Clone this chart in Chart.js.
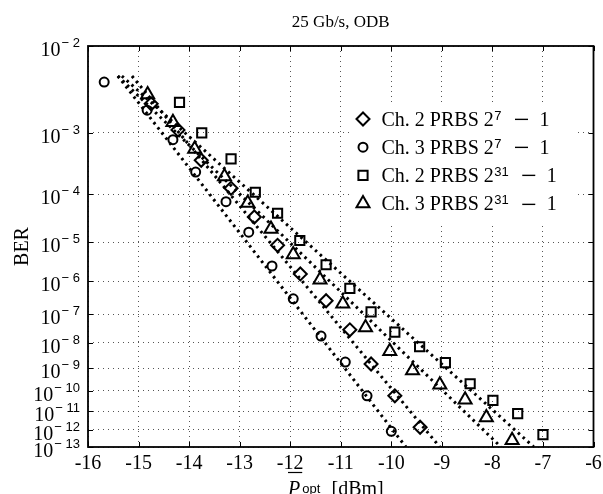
<!DOCTYPE html>
<html>
<head>
<meta charset="utf-8">
<title>BER vs received power</title>
<script src="https://cdn.jsdelivr.net/npm/chart.js@4.4.1/dist/chart.umd.min.js"></script>
<style>
  html, body { margin: 0; padding: 0; background: #fff; }
  canvas { display: block; }
</style>
</head>
<body>
<canvas id="berChart" width="603" height="494"></canvas>
<script>
// Measured BER vs average optical power (dBm), 25 Gb/s ODB
const powerCh2P7 = [-14.75, -14.22, -13.76, -13.17, -12.71, -12.25, -11.80, -11.29, -10.82, -10.40, -9.93, -9.43];
const berCh2P7 = [2.4e-3, 1.1e-3, 3.9e-4, 1.3e-4, 3.6e-5, 8.5e-6, 1.6e-6, 2.7e-7, 3.0e-8, 1.5e-9, 5.8e-11, 1.4e-12];

const powerCh3P7 = [-15.68, -14.83, -14.32, -13.87, -13.27, -12.82, -12.36, -11.94, -11.39, -10.91, -10.48, -10.00];
const berCh3P7 = [4.3e-3, 2.0e-3, 8.0e-4, 2.5e-4, 7.3e-5, 1.7e-5, 2.6e-6, 3.1e-7, 1.8e-8, 1.8e-9, 5.8e-11, 8.3e-13];

const powerCh2P31 = [-14.19, -13.75, -13.17, -12.69, -12.25, -11.81, -11.29, -10.82, -10.40, -9.93, -9.44, -8.93, -8.44, -7.99, -7.50, -7.00];
const berCh2P31 = [2.5e-3, 1.0e-3, 4.1e-4, 1.1e-4, 4.3e-5, 1.1e-5, 2.8e-6, 6.3e-7, 1.2e-7, 2.5e-8, 7.2e-9, 1.7e-9, 2.1e-10, 3.5e-11, 7.5e-12, 5.3e-13];

const powerCh3P31 = [-14.82, -14.32, -13.89, -13.30, -12.84, -12.38, -11.94, -11.41, -10.96, -10.51, -10.03, -9.58, -9.04, -8.54, -8.12, -7.61];
const berCh3P31 = [3.1e-3, 1.4e-3, 5.8e-4, 2.1e-4, 6.9e-5, 2.0e-5, 5.1e-6, 1.1e-6, 2.2e-7, 3.6e-8, 4.9e-9, 8.1e-10, 1.9e-10, 3.7e-11, 4.7e-12, 2.5e-13];

// Linear fits (end points) in the log(-log BER) domain
const fitBer = [5e-3, 1e-13];
const fitCh2P7 = [-15.13, -9.04];
const fitCh3P7 = [-15.41, -9.71];
const fitCh2P31 = [-15.33, -7.18];
const fitCh3P31 = [-15.41, -7.83];

// Axis ticks
const xTicks = [-16, -15, -14, -13, -12, -11, -10, -9, -8, -7, -6];
const berDecades = [2, 3, 4, 5, 6, 7, 8, 9, 10, 11, 12, 13];

const SERIF = '"Liberation Serif", "DejaVu Serif", serif';
const SANS = '"Liberation Sans", "DejaVu Sans", sans-serif';

// BER axis is drawn as log10(-log10(BER))
function berToAxis(ber) {
    return Math.log10(-Math.log10(ber));
}

function toPoints(power, ber) {
    return power.map((p, i) => ({ x: p, y: berToAxis(ber[i]) }));
}

const markerStyles = {
    diamond: { pointStyle: 'rectRot', radius: 6.5 },
    circle: { pointStyle: 'circle', radius: 4.5 },
    square: { pointStyle: 'rect', radius: 6.5 },
    triangle: { pointStyle: 'triangle', radius: 7.5 }
};

function markerSet(power, ber, style) {
    return {
        data: toPoints(power, ber),
        showLine: false,
        pointStyle: markerStyles[style].pointStyle,
        pointRadius: markerStyles[style].radius,
        pointBorderWidth: 2,
        pointBorderColor: '#000',
        pointBackgroundColor: 'rgba(0,0,0,0)',
        clip: false
    };
}

function fitSet(power) {
    return {
        data: toPoints(power, fitBer),
        showLine: true,
        pointRadius: 0,
        borderColor: '#000',
        borderWidth: 3,
        borderDash: [2.5, 4],
        borderCapStyle: 'butt'
    };
}

// Legend rows: marker + "Ch. n PRBS 2^k - 1"
const legendRows = [
    { style: 'diamond', text: 'Ch. 2 PRBS 2', exp: '7' },
    { style: 'circle', text: 'Ch. 3 PRBS 2', exp: '7' },
    { style: 'square', text: 'Ch. 2 PRBS 2', exp: '31' },
    { style: 'triangle', text: 'Ch. 3 PRBS 2', exp: '31' }
];

function drawLegendLabel(ctx, x, y, row) {
    ctx.textAlign = 'left';
    ctx.textBaseline = 'alphabetic';
    ctx.font = '20px ' + SERIF;
    ctx.fillText(row.text, x, y);
    x += ctx.measureText(row.text).width + 0.5;
    ctx.font = '13px ' + SANS;
    ctx.fillText(row.exp, x, y - 6);
    x += ctx.measureText(row.exp).width + 12;
    // wide, heavy minus sign
    ctx.font = 'bold 20px ' + SERIF;
    const mW = ctx.measureText('\u2212').width * 1.4;
    ctx.save();
    ctx.translate(x, y + 0.5);
    ctx.scale(1.4, 1);
    ctx.fillText('\u2212', 0, 0);
    ctx.restore();
    x += mW + 10;
    ctx.font = '20px ' + SERIF;
    ctx.fillText('1', x, y);
}

const frameAndText = {
    id: 'frameAndText',
    afterDraw(chart) {
        const { ctx, chartArea: a, scales: { x, y } } = chart;
        ctx.save();
        ctx.fillStyle = '#000';
        ctx.strokeStyle = '#000';

        // inward tick marks on all four sides
        ctx.lineWidth = 1;
        ctx.beginPath();
        xTicks.forEach(v => {
            const px = Math.round(x.getPixelForValue(v)) + 0.5;
            ctx.moveTo(px, a.bottom); ctx.lineTo(px, a.bottom - 5);
            ctx.moveTo(px, a.top); ctx.lineTo(px, a.top + 5);
        });
        berDecades.forEach(n => {
            const py = Math.round(y.getPixelForValue(Math.log10(n))) + 0.5;
            ctx.moveTo(a.left, py); ctx.lineTo(a.left + 5, py);
            ctx.moveTo(a.right, py); ctx.lineTo(a.right - 5, py);
        });
        ctx.stroke();

        // axes box
        ctx.lineWidth = 1.8;
        ctx.strokeRect(a.left, a.top, a.right - a.left, a.bottom - a.top);

        // x tick labels
        ctx.font = '20px ' + SERIF;
        ctx.textAlign = 'center';
        ctx.textBaseline = 'alphabetic';
        xTicks.forEach(v => {
            ctx.fillText(String(v), x.getPixelForValue(v), a.bottom + 21.5);
        });

        // y tick labels, 10^-n
        berDecades.forEach(n => {
            const py = y.getPixelForValue(Math.log10(n));
            const sup = '\u2212 ' + n;
            ctx.font = '13px ' + SANS;
            const supW = ctx.measureText(sup).width;
            ctx.font = '20px ' + SERIF;
            const baseW = ctx.measureText('10').width;
            const right = a.left - 8;
            ctx.textAlign = 'left';
            ctx.fillText('10', right - supW - baseW - 1, py + 10);
            ctx.font = '13px ' + SANS;
            ctx.fillText(sup, right - supW, py + 1);
        });

        // y axis label
        ctx.save();
        ctx.translate(28, (a.top + a.bottom) / 2);
        ctx.rotate(-Math.PI / 2);
        ctx.font = '20px ' + SERIF;
        ctx.textAlign = 'center';
        ctx.fillText('BER', 0, 0);
        ctx.restore();

        // x axis label: P-bar with subscript opt
        const lx = 288;
        const lb = 495;
        ctx.textAlign = 'left';
        ctx.font = 'italic 20px ' + SERIF;
        ctx.fillText('P', lx, lb);
        const pW = ctx.measureText('P').width;
        ctx.lineWidth = 1.2;
        ctx.beginPath();
        ctx.moveTo(lx, 472.5); ctx.lineTo(lx + pW + 2, 472.5);
        ctx.stroke();
        ctx.font = '13px ' + SANS;
        ctx.fillText('opt', lx + pW + 2, lb - 2);
        ctx.font = '20px ' + SERIF;
        ctx.fillText('[dBm]', 331.5, lb);

        // title
        ctx.font = '17px ' + SERIF;
        ctx.textAlign = 'center';
        ctx.fillText('25 Gb/s, ODB', (a.left + a.right) / 2, 27);

        // legend (white panel, no frame)
        ctx.fillStyle = '#fff';
        ctx.fillRect(349, 106, 225, 116);
        legendRows.forEach((row, i) => {
            const cy = 119 + i * 28.2;
            ctx.lineWidth = 2;
            ctx.fillStyle = 'rgba(0,0,0,0)';
            Chart.helpers.drawPoint(ctx, {
                pointStyle: markerStyles[row.style].pointStyle,
                radius: markerStyles[row.style].radius,
                rotation: 0,
                borderWidth: 2
            }, 363, cy);
            ctx.fillStyle = '#000';
            drawLegendLabel(ctx, 381.5, cy + 6.5, row);
        });

        ctx.restore();
    }
};

const gridStyle = {
    color: '#555',
    lineWidth: 1,
    drawTicks: false
};

new Chart(document.getElementById('berChart'), {
    type: 'scatter',
    data: {
        datasets: [
            markerSet(powerCh2P7, berCh2P7, 'diamond'),
            markerSet(powerCh3P7, berCh3P7, 'circle'),
            markerSet(powerCh2P31, berCh2P31, 'square'),
            markerSet(powerCh3P31, berCh3P31, 'triangle'),
            fitSet(fitCh2P7),
            fitSet(fitCh3P7),
            fitSet(fitCh2P31),
            fitSet(fitCh3P31)
        ]
    },
    options: {
        responsive: false,
        animation: false,
        devicePixelRatio: 1,
        layout: { padding: { left: 88, right: 8, top: 46, bottom: 47 } },
        plugins: {
            legend: { display: false },
            tooltip: { enabled: false }
        },
        scales: {
            x: {
                type: 'linear',
                min: xTicks[0],
                max: xTicks[xTicks.length - 1],
                afterBuildTicks: scale => {
                    scale.ticks = xTicks.map(v => ({ value: v }));
                },
                ticks: { display: false },
                grid: gridStyle,
                border: { display: false, dash: [1, 4] }
            },
            y: {
                type: 'linear',
                reverse: true,
                min: Math.log10(berDecades[0]),
                max: Math.log10(berDecades[berDecades.length - 1]),
                afterBuildTicks: scale => {
                    scale.ticks = berDecades.map(n => ({ value: Math.log10(n) }));
                },
                ticks: { display: false },
                grid: gridStyle,
                border: { display: false, dash: [1, 4] }
            }
        }
    },
    plugins: [frameAndText]
});
</script>
</body>
</html>
